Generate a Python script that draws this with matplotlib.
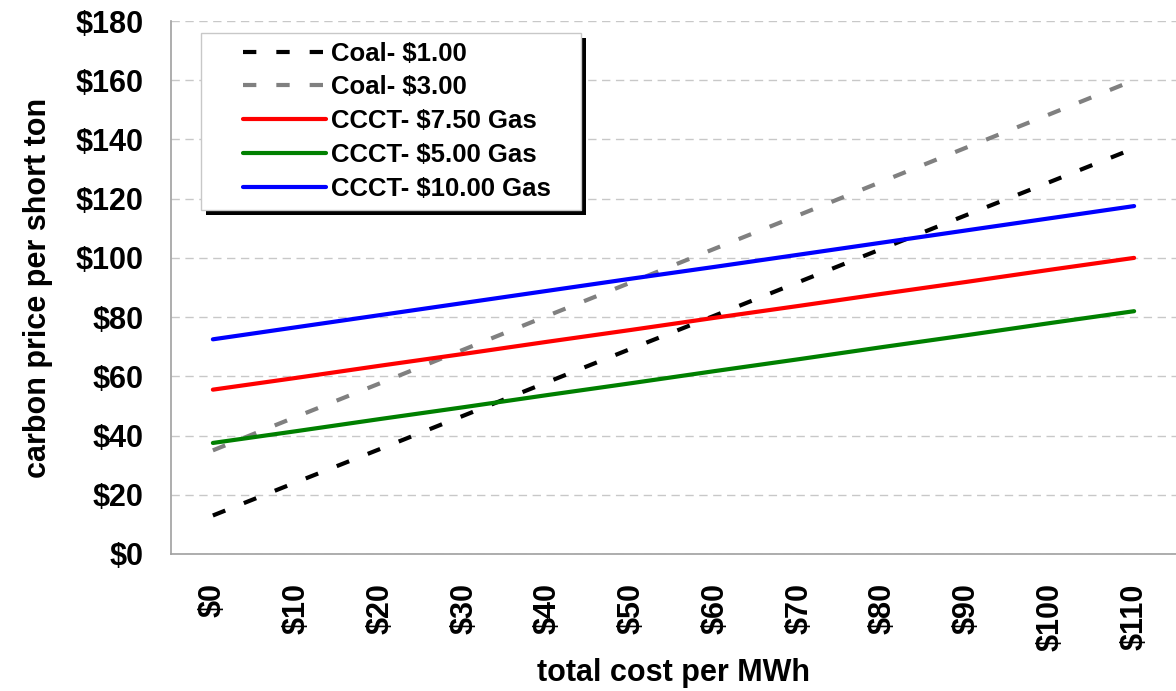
import matplotlib.pyplot as plt
from matplotlib.patches import Rectangle

plt.rcParams['font.family'] = ['Liberation Sans', 'DejaVu Sans']
plt.rcParams['font.weight'] = 'bold'

cost_labels = ['$0', '$10', '$20', '$30', '$40', '$50', '$60', '$70', '$80', '$90', '$100', '$110']

coal_1 = [13, 24.3, 35.5, 46.8, 58.1, 69.4, 80.6, 91.9, 103.2, 114.5, 125.7, 137]
coal_3 = [35, 46.4, 57.7, 69.1, 80.5, 91.8, 103.2, 114.5, 125.9, 137.3, 148.6, 160]
ccct_750 = [55.5, 59.5, 63.6, 67.6, 71.7, 75.7, 79.8, 83.8, 87.9, 91.9, 96, 100]
ccct_500 = [37.5, 41.5, 45.6, 49.6, 53.7, 57.7, 61.8, 65.8, 69.9, 73.9, 78, 82]
ccct_1000 = [72.5, 76.6, 80.7, 84.8, 88.9, 93, 97, 101.1, 105.2, 109.3, 113.4, 117.5]

y_ticks = [0, 20, 40, 60, 80, 100, 120, 140, 160, 180]

fig = plt.figure(figsize=(11.76, 6.91), dpi=100)
# plot area: x 171..1176 px, y 21..554 px
ax = fig.add_axes([171 / 1176, 137 / 691, 1005 / 1176, 533 / 691])

x = range(len(cost_labels))
ax.plot(x, coal_1, color='black', lw=3.0, dashes=(3.2, 4.8), label='Coal- $1.00')
ax.plot(x, coal_3, color='#808080', lw=3.0, dashes=(3.2, 4.8), label='Coal- $3.00')
ax.plot(x, ccct_750, color='#ff0000', lw=3.0, solid_capstyle='round', label='CCCT- $7.50 Gas')
ax.plot(x, ccct_500, color='#008000', lw=3.0, solid_capstyle='round', label='CCCT- $5.00 Gas')
ax.plot(x, ccct_1000, color='#0000ff', lw=3.0, solid_capstyle='round', label='CCCT- $10.00 Gas')

ax.set_xlim(-0.5, len(cost_labels) - 0.5)
ax.set_ylim(0, 180)
ax.set_xticks(list(x))
ax.set_xticklabels(cost_labels, rotation=90, fontsize=22, fontweight='bold')
ax.set_yticks(y_ticks)
ax.set_yticklabels(['$%d' % v for v in y_ticks], fontsize=22, fontweight='bold')
ax.tick_params(axis='both', length=0)
ax.tick_params(axis='x', pad=21)
ax.tick_params(axis='y', pad=20)

ax.grid(axis='y', color='#c8c8c8', linestyle=(0, (6, 4)), lw=1)
ax.set_axisbelow(True)
for side in ['top', 'right']:
    ax.spines[side].set_visible(False)
for side in ['left', 'bottom']:
    ax.spines[side].set_color('#a0a0a0')
    ax.spines[side].set_linewidth(1.2)

ax.set_xlabel('total cost per MWh', fontsize=22, fontweight='bold', labelpad=5)
ax.set_ylabel('carbon price per short ton', fontsize=22, fontweight='bold', labelpad=16)

# legend frame: x 201..581 px, top at 38 px
leg = ax.legend(loc='upper left', bbox_to_anchor=(30 / 1005, (554 - 38) / 533, 380 / 1005, 0.01),
                mode='expand', borderaxespad=0, fontsize=18.5, frameon=True, fancybox=False,
                framealpha=1, handlelength=4.5, handletextpad=0.2, labelspacing=0.38,
                borderpad=0.35)
leg.get_frame().set_edgecolor('#c8c8c8')
leg.get_frame().set_linewidth(1)
leg.set_zorder(6)
for t in leg.get_texts():
    t.set_fontweight('bold')
# handles start further in from the frame
for ln in leg.get_lines():
    xd = list(ln.get_xdata())
    xd[0] = xd[0] + 24
    ln.set_xdata(xd)

fig.canvas.draw()
bb = leg.get_window_extent()
shadow = Rectangle((bb.x0 + 5, bb.y0 - 5), bb.width, bb.height, transform=None,
                   facecolor='black', edgecolor='none', zorder=5.9)
ax.add_artist(shadow)

plt.savefig('out.png', dpi=100)
